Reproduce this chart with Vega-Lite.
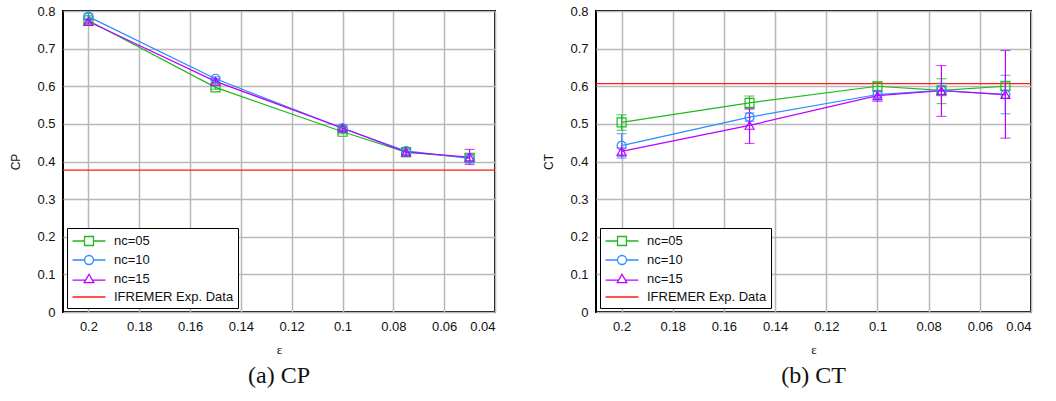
{
  "$schema": "https://vega.github.io/schema/vega-lite/v6.json",
  "padding": {"left": 8, "top": 4, "right": 10, "bottom": 4},
  "spacing": 44,
  "config": {
    "view": {"stroke": "black", "strokeWidth": 2},
    "font": "Liberation Sans",
    "axis": {"grid": true, "gridColor": "#b8b8b8", "gridWidth": 1.5, "domain": false, "ticks": false, "labelFontSize": 13, "labelColor": "#111", "labelFont": "Liberation Sans", "titleFontWeight": "normal", "titleColor": "#111"},
    "legend": {"orient": "bottom-left", "offset": 4, "fillColor": "white", "strokeColor": "black", "padding": 4, "labelFontSize": 13, "labelColor": "#111", "rowPadding": 2, "symbolSize": 256, "symbolOffset": 9, "symbolStrokeWidth": 1.3, "symbolFillColor": "transparent", "labelOffset": 16, "cornerRadius": 0}
  },
  "datasets": {
    "cp": [
      {"eps": 0.2, "series": "nc=05", "val": 0.775, "lo": 0.770, "hi": 0.780},
      {"eps": 0.15, "series": "nc=05", "val": 0.597, "lo": 0.592, "hi": 0.602},
      {"eps": 0.1, "series": "nc=05", "val": 0.479, "lo": 0.474, "hi": 0.484},
      {"eps": 0.075, "series": "nc=05", "val": 0.425, "lo": 0.418, "hi": 0.432},
      {"eps": 0.05, "series": "nc=05", "val": 0.410, "lo": 0.400, "hi": 0.420},
      {"eps": 0.2, "series": "nc=10", "val": 0.785, "lo": 0.777, "hi": 0.793},
      {"eps": 0.15, "series": "nc=10", "val": 0.620, "lo": 0.615, "hi": 0.625},
      {"eps": 0.1, "series": "nc=10", "val": 0.488, "lo": 0.483, "hi": 0.493},
      {"eps": 0.075, "series": "nc=10", "val": 0.428, "lo": 0.420, "hi": 0.436},
      {"eps": 0.05, "series": "nc=10", "val": 0.408, "lo": 0.396, "hi": 0.420},
      {"eps": 0.2, "series": "nc=15", "val": 0.772, "lo": 0.767, "hi": 0.777},
      {"eps": 0.15, "series": "nc=15", "val": 0.613, "lo": 0.606, "hi": 0.620},
      {"eps": 0.1, "series": "nc=15", "val": 0.489, "lo": 0.482, "hi": 0.496},
      {"eps": 0.075, "series": "nc=15", "val": 0.425, "lo": 0.413, "hi": 0.436},
      {"eps": 0.05, "series": "nc=15", "val": 0.412, "lo": 0.392, "hi": 0.432}
    ],
    "ct": [
      {"eps": 0.2, "series": "nc=05", "val": 0.504, "lo": 0.483, "hi": 0.524},
      {"eps": 0.15, "series": "nc=05", "val": 0.556, "lo": 0.540, "hi": 0.574},
      {"eps": 0.1, "series": "nc=05", "val": 0.600, "lo": 0.588, "hi": 0.610},
      {"eps": 0.075, "series": "nc=05", "val": 0.589, "lo": 0.554, "hi": 0.620},
      {"eps": 0.05, "series": "nc=05", "val": 0.600, "lo": 0.590, "hi": 0.613},
      {"eps": 0.2, "series": "nc=10", "val": 0.442, "lo": 0.409, "hi": 0.474},
      {"eps": 0.15, "series": "nc=10", "val": 0.518, "lo": 0.507, "hi": 0.529},
      {"eps": 0.1, "series": "nc=10", "val": 0.578, "lo": 0.570, "hi": 0.585},
      {"eps": 0.075, "series": "nc=10", "val": 0.589, "lo": 0.575, "hi": 0.608},
      {"eps": 0.05, "series": "nc=10", "val": 0.578, "lo": 0.527, "hi": 0.629},
      {"eps": 0.2, "series": "nc=15", "val": 0.427, "lo": 0.414, "hi": 0.436},
      {"eps": 0.15, "series": "nc=15", "val": 0.496, "lo": 0.448, "hi": 0.540},
      {"eps": 0.1, "series": "nc=15", "val": 0.575, "lo": 0.560, "hi": 0.588},
      {"eps": 0.075, "series": "nc=15", "val": 0.588, "lo": 0.520, "hi": 0.655},
      {"eps": 0.05, "series": "nc=15", "val": 0.578, "lo": 0.462, "hi": 0.695}
    ],
    "cpExp": [{"series": "IFREMER Exp. Data", "val": 0.377}],
    "ctExp": [{"series": "IFREMER Exp. Data", "val": 0.607}]
  },
  "hconcat": [
    {
      "width": 432, "height": 301,
      "title": {"text": "(a) CP", "orient": "bottom", "font": "Liberation Serif", "fontSize": 24, "fontWeight": "normal", "color": "#111", "offset": 8},
      "encoding": {
        "x": {"field": "eps", "type": "quantitative", "scale": {"domain": [0.21, 0.04], "nice": false, "zero": false},
              "axis": {"values": [0.2, 0.18, 0.16, 0.14, 0.12, 0.1, 0.08, 0.06, 0.04], "format": "~g", "title": "ε", "titleFont": "Liberation Serif", "titleFontSize": 13, "titlePadding": 10, "labelPadding": 8}},
        "y": {"field": "val", "type": "quantitative", "scale": {"domain": [0, 0.8], "nice": false},
              "axis": {"values": [0, 0.1, 0.2, 0.3, 0.4, 0.5, 0.6, 0.7, 0.8], "format": "~g", "title": "CP", "titleFontSize": 12, "titlePadding": 14, "labelPadding": 8}},
        "color": {"field": "series", "type": "nominal", "title": null,
                  "scale": {"domain": ["nc=05", "nc=10", "nc=15", "IFREMER Exp. Data"], "range": ["#20b820", "#2a8cff", "#bb00ff", "#ff1a1a"]},
                  "legend": {"title": null, "encode": {"symbols": {"update": {"fill": {"value": "transparent"}, "fillOpacity": {"value": 0}, "opacity": {"value": 1}, "strokeOpacity": {"value": 1}, "strokeWidth": {"value": 1.3}}}}}}
      },
      "layer": [
        {"data": {"name": "cpExp"}, "mark": {"type": "rule", "strokeWidth": 1.3}, "encoding": {"x": null}},
        {"data": {"name": "cp"}, "mark": {"type": "line", "strokeWidth": 1.2}},
        {"data": {"name": "cp"}, "mark": {"type": "errorbar", "ticks": {"size": 10}, "thickness": 1.2}, "encoding": {"y": {"field": "lo", "type": "quantitative"}, "y2": {"field": "hi"}}},
        {"data": {"name": "cp"}, "transform": [{"filter": "datum.series == 'nc=05'"}], "mark": {"type": "point", "shape": "square", "filled": false, "size": 80, "strokeWidth": 1.2, "opacity": 1}},
        {"data": {"name": "cp"}, "transform": [{"filter": "datum.series == 'nc=10'"}], "mark": {"type": "point", "shape": "circle", "filled": false, "size": 80, "strokeWidth": 1.2, "opacity": 1}},
        {"data": {"name": "cp"}, "transform": [{"filter": "datum.series == 'nc=15'"}], "mark": {"type": "point", "shape": "triangle-up", "filled": false, "size": 80, "strokeWidth": 1.2, "opacity": 1}},
        {"data": {"name": "cp"}, "transform": [{"filter": "datum.series == 'none'"}], "mark": {"type": "point", "filled": false, "strokeWidth": 1.3, "opacity": 1},
         "encoding": {"shape": {"field": "series", "type": "nominal", "title": null,
           "scale": {"domain": ["nc=05", "nc=10", "nc=15", "IFREMER Exp. Data"], "range": ["M-2.06,0H-0.56M0.56,0H2.06M-0.56,-0.56H0.56V0.56H-0.56Z", "M-2.06,0H-0.56M0.56,0H2.06M0.56,0A0.56,0.56 0 1,1 -0.56,0A0.56,0.56 0 1,1 0.56,0", "M-2.06,0.15H-0.45M0.45,0.15H2.06M0,-0.6L0.6,0.45L-0.6,0.45Z", "M-2.06,0H2.06"]},
           "legend": {"title": null, "encode": {"symbols": {"update": {"fill": {"value": "transparent"}, "fillOpacity": {"value": 0}, "opacity": {"value": 1}, "strokeOpacity": {"value": 1}, "strokeWidth": {"value": 1.3}}}}}}}}
      ]
    },
    {
      "width": 435, "height": 301,
      "title": {"text": "(b) CT", "orient": "bottom", "font": "Liberation Serif", "fontSize": 24, "fontWeight": "normal", "color": "#111", "offset": 8},
      "encoding": {
        "x": {"field": "eps", "type": "quantitative", "scale": {"domain": [0.21, 0.04], "nice": false, "zero": false},
              "axis": {"values": [0.2, 0.18, 0.16, 0.14, 0.12, 0.1, 0.08, 0.06, 0.04], "format": "~g", "title": "ε", "titleFont": "Liberation Serif", "titleFontSize": 13, "titlePadding": 10, "labelPadding": 8}},
        "y": {"field": "val", "type": "quantitative", "scale": {"domain": [0, 0.8], "nice": false},
              "axis": {"values": [0, 0.1, 0.2, 0.3, 0.4, 0.5, 0.6, 0.7, 0.8], "format": "~g", "title": "CT", "titleFontSize": 12, "titlePadding": 14, "labelPadding": 8}},
        "color": {"field": "series", "type": "nominal", "title": null,
                  "scale": {"domain": ["nc=05", "nc=10", "nc=15", "IFREMER Exp. Data"], "range": ["#20b820", "#2a8cff", "#bb00ff", "#ff1a1a"]},
                  "legend": {"title": null, "encode": {"symbols": {"update": {"fill": {"value": "transparent"}, "fillOpacity": {"value": 0}, "opacity": {"value": 1}, "strokeOpacity": {"value": 1}, "strokeWidth": {"value": 1.3}}}}}}
      },
      "layer": [
        {"data": {"name": "ctExp"}, "mark": {"type": "rule", "strokeWidth": 1.3}, "encoding": {"x": null}},
        {"data": {"name": "ct"}, "mark": {"type": "line", "strokeWidth": 1.2}},
        {"data": {"name": "ct"}, "mark": {"type": "errorbar", "ticks": {"size": 10}, "thickness": 1.2}, "encoding": {"y": {"field": "lo", "type": "quantitative"}, "y2": {"field": "hi"}}},
        {"data": {"name": "ct"}, "transform": [{"filter": "datum.series == 'nc=05'"}], "mark": {"type": "point", "shape": "square", "filled": false, "size": 80, "strokeWidth": 1.2, "opacity": 1}},
        {"data": {"name": "ct"}, "transform": [{"filter": "datum.series == 'nc=10'"}], "mark": {"type": "point", "shape": "circle", "filled": false, "size": 80, "strokeWidth": 1.2, "opacity": 1}},
        {"data": {"name": "ct"}, "transform": [{"filter": "datum.series == 'nc=15'"}], "mark": {"type": "point", "shape": "triangle-up", "filled": false, "size": 80, "strokeWidth": 1.2, "opacity": 1}},
        {"data": {"name": "ct"}, "transform": [{"filter": "datum.series == 'none'"}], "mark": {"type": "point", "filled": false, "strokeWidth": 1.3, "opacity": 1},
         "encoding": {"shape": {"field": "series", "type": "nominal", "title": null,
           "scale": {"domain": ["nc=05", "nc=10", "nc=15", "IFREMER Exp. Data"], "range": ["M-2.06,0H-0.56M0.56,0H2.06M-0.56,-0.56H0.56V0.56H-0.56Z", "M-2.06,0H-0.56M0.56,0H2.06M0.56,0A0.56,0.56 0 1,1 -0.56,0A0.56,0.56 0 1,1 0.56,0", "M-2.06,0.15H-0.45M0.45,0.15H2.06M0,-0.6L0.6,0.45L-0.6,0.45Z", "M-2.06,0H2.06"]},
           "legend": {"title": null, "encode": {"symbols": {"update": {"fill": {"value": "transparent"}, "fillOpacity": {"value": 0}, "opacity": {"value": 1}, "strokeOpacity": {"value": 1}, "strokeWidth": {"value": 1.3}}}}}}}}
      ]
    }
  ],
  "resolve": {"scale": {"color": "independent", "shape": "independent"}}
}
